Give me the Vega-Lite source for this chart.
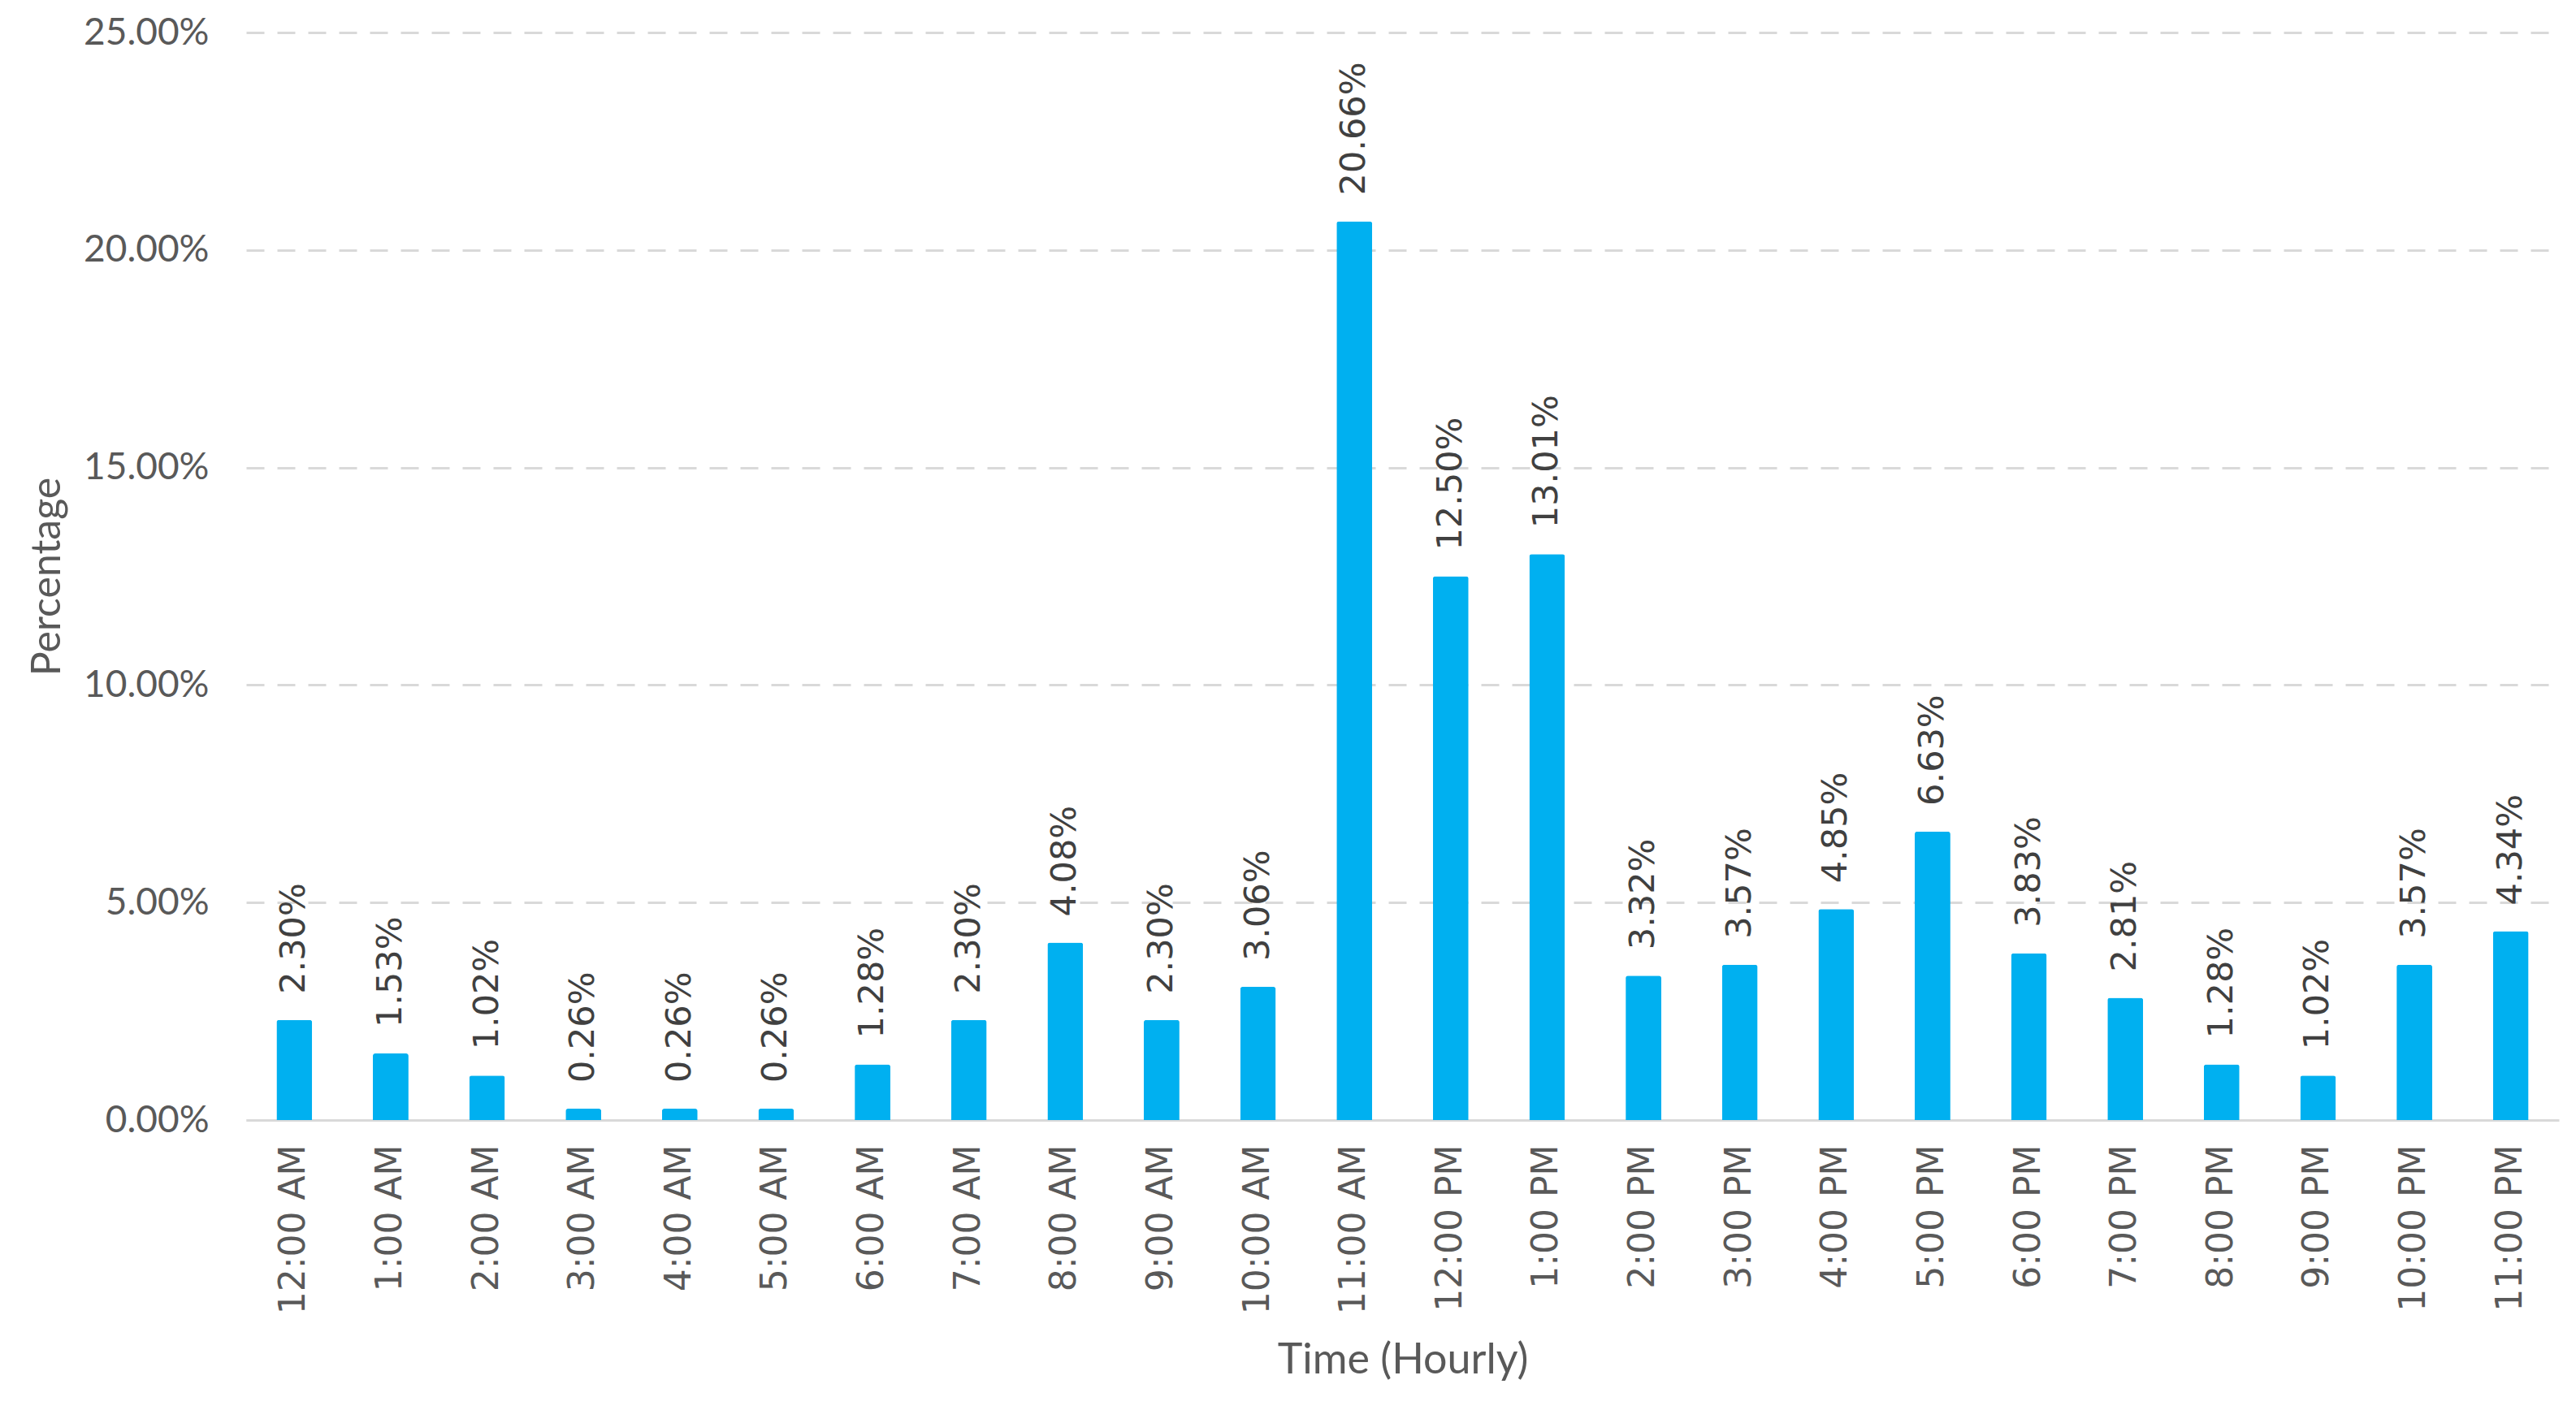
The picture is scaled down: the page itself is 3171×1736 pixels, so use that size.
{
  "$schema": "https://vega.github.io/schema/vega-lite/v6.json",
  "autosize": {"type": "none"},
  "padding": {"left": 303, "top": 40, "right": 21, "bottom": 357},
  "width": 2847,
  "height": 1339,
  "background": "white",
  "config": {"view": {"stroke": null}},
  "data": {
    "values": [
      {"time": "12:00 AM", "pct": 0.0230},
      {"time": "1:00 AM", "pct": 0.0153},
      {"time": "2:00 AM", "pct": 0.0102},
      {"time": "3:00 AM", "pct": 0.0026},
      {"time": "4:00 AM", "pct": 0.0026},
      {"time": "5:00 AM", "pct": 0.0026},
      {"time": "6:00 AM", "pct": 0.0128},
      {"time": "7:00 AM", "pct": 0.0230},
      {"time": "8:00 AM", "pct": 0.0408},
      {"time": "9:00 AM", "pct": 0.0230},
      {"time": "10:00 AM", "pct": 0.0306},
      {"time": "11:00 AM", "pct": 0.2066},
      {"time": "12:00 PM", "pct": 0.1250},
      {"time": "1:00 PM", "pct": 0.1301},
      {"time": "2:00 PM", "pct": 0.0332},
      {"time": "3:00 PM", "pct": 0.0357},
      {"time": "4:00 PM", "pct": 0.0485},
      {"time": "5:00 PM", "pct": 0.0663},
      {"time": "6:00 PM", "pct": 0.0383},
      {"time": "7:00 PM", "pct": 0.0281},
      {"time": "8:00 PM", "pct": 0.0128},
      {"time": "9:00 PM", "pct": 0.0102},
      {"time": "10:00 PM", "pct": 0.0357},
      {"time": "11:00 PM", "pct": 0.0434}
    ]
  },
  "encoding": {
    "x": {
      "field": "time",
      "type": "nominal",
      "sort": null,
      "scale": {"paddingInner": 0.63, "paddingOuter": 0.315},
      "axis": {
        "title": "Time (Hourly)",
        "titleFont": "Lato",
        "titleFontSize": 52,
        "titleFontWeight": "normal",
        "titleColor": "#595959",
        "titleY": 295,
        "titleBaseline": "middle",
        "labelAngle": -90,
        "labelAlign": "right",
        "labelBaseline": "middle",
        "labelFont": "DejaVu Sans",
        "labelFontSize": 44,
        "labelColor": "#595959",
        "labelPadding": 30,
        "labelLimit": 0,
        "labelOverlap": false,
        "ticks": false,
        "domain": true,
        "domainColor": "#D9D9D9",
        "domainWidth": 3,
        "grid": false
      }
    },
    "y": {
      "field": "pct",
      "type": "quantitative",
      "scale": {"domain": [0, 0.25], "nice": false},
      "axis": {
        "title": "Percentage",
        "titleFont": "Lato",
        "titleFontSize": 50,
        "titleFontWeight": "normal",
        "titleColor": "#595959",
        "titlePadding": 20,
        "values": [0, 0.05, 0.1, 0.15, 0.2, 0.25],
        "format": ".2%",
        "labelFont": "Lato",
        "labelFontSize": 46,
        "labelColor": "#595959",
        "labelPadding": 46,
        "ticks": false,
        "domain": false,
        "grid": true,
        "gridColor": "#D9D9D9",
        "gridWidth": 3,
        "gridDash": [22, 16]
      }
    }
  },
  "layer": [
    {
      "mark": {"type": "bar", "color": "#00B0F0", "cornerRadiusTopLeft": 3, "cornerRadiusTopRight": 3}
    },
    {
      "mark": {
        "type": "text",
        "angle": -90,
        "align": "left",
        "baseline": "middle",
        "dx": 32,
        "font": "DejaVu Sans",
        "fontSize": 43,
        "color": "#404040"
      },
      "encoding": {
        "text": {"field": "pct", "type": "quantitative", "format": ".2%"}
      }
    }
  ]
}
